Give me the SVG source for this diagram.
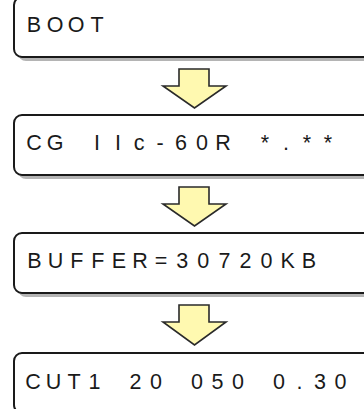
<svg xmlns="http://www.w3.org/2000/svg" width="364" height="409" viewBox="0 0 364 409">
<defs>
<style>
.box{fill:#ffffff;stroke:#1a1a1a;stroke-width:2}
.shadow{fill:#b4b4b4}
.lbl{font-family:"Liberation Sans",Arial,sans-serif;font-size:21.5px;fill:#1a1a1a;text-anchor:middle}
.arrow{fill:#fff9b0;stroke:#2a2a2a;stroke-width:1.6;stroke-linejoin:miter}
</style>
</defs>
<rect width="364" height="409" fill="#ffffff"/>
<g id="node1">
<rect class="shadow" x="18" y="0" width="400" height="61" rx="8"/>
<rect class="box" x="14" y="-3" width="400" height="60" rx="8"/>
<text class="lbl" x="34 55 76 97" y="31.5">BOOT</text>
</g>
<g id="node2">
<rect class="shadow" x="18" y="118" width="400" height="61" rx="8"/>
<rect class="box" x="14" y="115" width="400" height="60" rx="8"/>
<text class="lbl" x="34 55 76 97 118 139 160 181 202 223 244 265 286 307 328" y="150" xml:space="preserve">CG IIc-60R *.**</text>
</g>
<g id="node3">
<rect class="shadow" x="18" y="236" width="400" height="61" rx="8"/>
<rect class="box" x="14" y="233" width="400" height="60" rx="8"/>
<text class="lbl" x="34.5 55.6 76.7 97.8 118.9 140 161.1 182.2 203.3 224.4 245.5 266.6 287.7 308.8" y="268">BUFFER=30720KB</text>
</g>
<g id="node4">
<rect class="shadow" x="18" y="356" width="400" height="61" rx="8"/>
<rect class="box" x="14" y="353" width="400" height="60" rx="8"/>
<text class="lbl" x="33 53.5 74 94.5 115 135.5 156 176.5 197 217.5 238 258.5 279 299.5 320 340.5" y="389" xml:space="preserve">CUT1 20 050 0.30</text>
</g>
<g id="connectors">
<path class="arrow" d="M179,69 H209 V86 H226 L194.5,108 L163,86 H179 Z"/>
<path class="arrow" d="M179,187 H209 V204 H226 L194.5,226 L163,204 H179 Z"/>
<path class="arrow" d="M179,305 H209 V322 H226 L194.5,345 L163,322 H179 Z"/>
</g>
</svg>
